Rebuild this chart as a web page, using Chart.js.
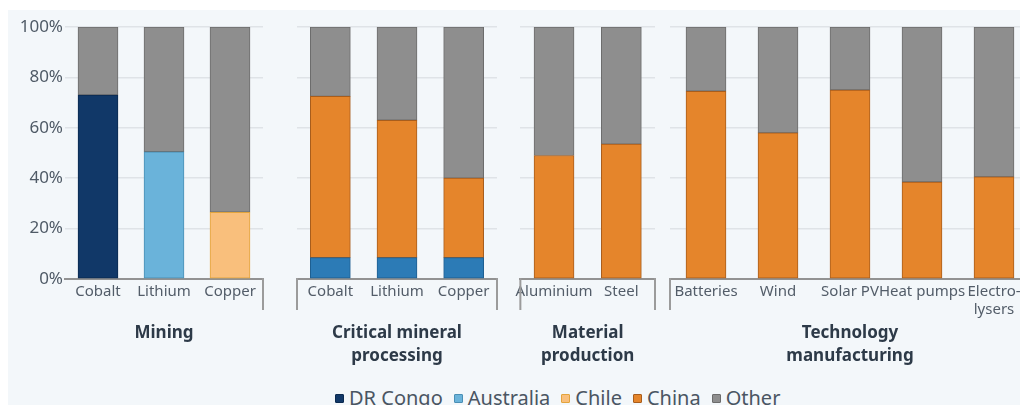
<!DOCTYPE html>
<html>
<head>
<meta charset="utf-8">
<script src="https://cdn.jsdelivr.net/npm/chart.js@4.4.1/dist/chart.umd.min.js"></script>
<style>
  body { margin: 0; background: #fff; font-family: "Noto Sans", sans-serif; }
  #panel { position: absolute; left: 8px; top: 10px; width: 1012px; height: 395px; background: #f3f7fa; overflow: hidden; }
  .grp { position: absolute; top: 0; }
  #legend { position: absolute; left: 327px; top: 376px; display: flex;
            font-size: 20px; line-height: 24px; color: #4a5562; white-space: nowrap; }
  #legend span.item { display: inline-flex; align-items: center; margin-right: 11px; }
  #legend i { display: inline-block; width: 7px; height: 7px; border-radius: 1px; margin-right: 5px; }
</style>
</head>
<body>
<div id="panel">
  <div class="grp" style="left:0px"><canvas id="mining"></canvas></div>
  <div class="grp" style="left:287px"><canvas id="processing"></canvas></div>
  <div class="grp" style="left:503px"><canvas id="material"></canvas></div>
  <div class="grp" style="left:660px"><canvas id="tech"></canvas></div>
  <div id="legend"></div>
</div>
<script>
// --- Data ---
const yTicks = [0, 20, 40, 60, 80, 100];

const miningCats = ['Cobalt', 'Lithium', 'Copper'];
const miningDRCongo = [73, null, null];
const miningAustralia = [null, 50.5, null];
const miningChile = [null, null, 26.5];
const miningOther = [27, 49.5, 73.5];

const processingCats = ['Cobalt', 'Lithium', 'Copper'];
const processingSecond = [8.5, 8.5, 8.5];
const processingChina = [64, 54.5, 31.5];
const processingOther = [27.5, 37, 60];

const materialCats = ['Aluminium', 'Steel'];
const materialChina = [49, 53.5];
const materialOther = [51, 46.5];

const techCats = ['Batteries', 'Wind', 'Solar PV', 'Heat pumps', ['Electro-', 'lysers']];
const techChina = [74.5, 58, 75, 38.5, 40.5];
const techOther = [25.5, 42, 25, 61.5, 59.5];

const legendNames = ['DR Congo', 'Australia', 'Chile', 'China', 'Other'];

// --- Colours ---
const colors = {
  'DR Congo': ['#113868', '#0b2a50'],
  'Australia': ['#6ab3da', '#4a8fb5'],
  'Chile': ['#f9bf7c', '#e3a43c'],
  'China': ['#e5852b', '#a85d1c'],
  'Other': ['#8e8e8e', '#6c6c6c'],
  'Second': ['#2c7bb6', '#1e5f91']
};

function series(label, data, key) {
  return {
    label, data,
    backgroundColor: colors[key || label][0],
    borderColor: colors[key || label][1],
    borderWidth: 1,
    borderSkipped: false,
    barThickness: 40
  };
}

// --- Bracket under each group + group title ---
const groupFrame = {
  id: 'groupFrame',
  afterDraw(chart, args, opts) {
    const { ctx, chartArea: { left, right, bottom } } = chart;
    ctx.save();
    ctx.strokeStyle = '#9b9b9b';
    ctx.lineWidth = 2;
    ctx.beginPath();
    if (opts.leftEdge) { ctx.moveTo(left, bottom - 1); ctx.lineTo(left, bottom + 31); }
    ctx.moveTo(right, bottom - 1); ctx.lineTo(right, bottom + 31);
    ctx.stroke();
    ctx.font = 'bold 17px "Noto Sans"';
    ctx.fillStyle = '#2d3a48';
    ctx.textAlign = 'center';
    ctx.textBaseline = 'middle';
    const cx = (left + right) / 2;
    [].concat(opts.title).forEach((line, i) => ctx.fillText(line, cx, bottom + 54 + i * 23));
    ctx.restore();
  }
};

function makeGroup(id, width, cats, datasets, title, first) {
  const canvas = document.getElementById(id);
  canvas.width = width;
  canvas.height = 360;
  return new Chart(canvas, {
    type: 'bar',
    data: { labels: cats, datasets },
    plugins: [groupFrame],
    options: {
      responsive: false,
      animation: false,
      layout: { padding: { top: 17, bottom: 49, left: first ? 0 : 2, right: 2 } },
      plugins: {
        legend: { display: false },
        tooltip: { enabled: false },
        groupFrame: { title, leftEdge: !first }
      },
      scales: {
        x: {
          stacked: true,
          grid: { display: false, drawTicks: false },
          border: { display: true, color: '#929292', width: 2 },
          ticks: { autoSkip: false, maxRotation: 0, padding: 4, color: '#535d69',
                   font: { family: 'Noto Sans', size: 15 } },
          afterFit: s => { s.height = 42; }
        },
        y: {
          stacked: true,
          min: 0, max: 100,
          afterBuildTicks: s => { s.ticks = yTicks.map(v => ({ value: v })); },
          grid: { color: '#dfe3e7', lineWidth: 1.5, drawTicks: false },
          border: { display: false },
          ticks: { display: first, padding: 2, color: '#4f5a66',
                   font: { family: 'Noto Sans', size: 17 }, callback: v => v + '%' },
          afterFit: s => { s.width = first ? 57 : 0; }
        }
      }
    }
  });
}

makeGroup('mining', 257, miningCats, [
  series('DR Congo', miningDRCongo),
  series('Australia', miningAustralia),
  series('Chile', miningChile),
  series('Other', miningOther)
], 'Mining', true);

makeGroup('processing', 204, processingCats, [
  series('Second producer', processingSecond, 'Second'),
  series('China', processingChina),
  series('Other', processingOther)
], ['Critical mineral', 'processing'], false);

makeGroup('material', 146, materialCats, [
  series('China', materialChina),
  series('Other', materialOther)
], ['Material', 'production'], false);

makeGroup('tech', 364, techCats, [
  series('China', techChina),
  series('Other', techOther)
], ['Technology', 'manufacturing'], false);

// --- Legend ---
const legend = document.getElementById('legend');
legendNames.forEach(name => {
  const item = document.createElement('span');
  item.className = 'item';
  item.innerHTML = `<i style="background:${colors[name][0]};border:1px solid ${colors[name][1]}"></i>${name}`;
  legend.appendChild(item);
});
</script>
</body>
</html>
